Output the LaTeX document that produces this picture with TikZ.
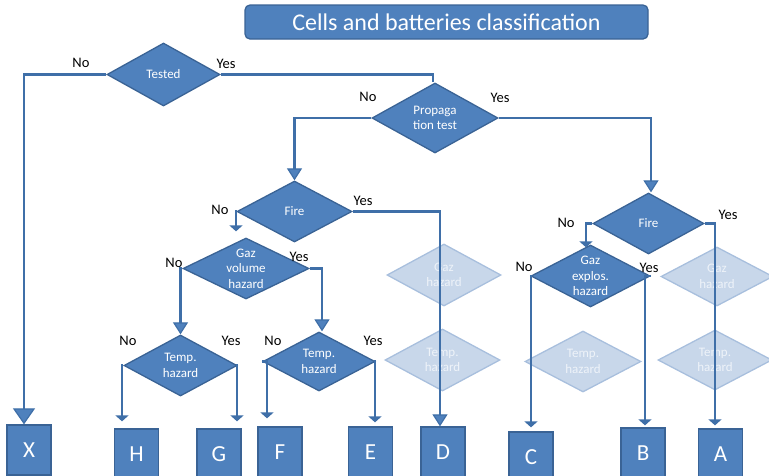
\documentclass[tikz,border=0pt]{standalone}
\usepackage{fontspec}
\setmainfont{Carlito}
\usetikzlibrary{shapes.geometric,arrows.meta}
\definecolor{fillblue}{HTML}{4F81BD}
\definecolor{edgeblue}{HTML}{3A6395}
\definecolor{linkblue}{HTML}{3F6FA8}
\definecolor{fadefill}{HTML}{C8D7EA}
\definecolor{fadeedge}{HTML}{A8BFDD}
\definecolor{fadetext}{HTML}{EEF3F9}
\begin{document}
\begin{tikzpicture}[x=1pt,y=-1pt,
  dia/.style={diamond, draw=edgeblue, line width=1.3pt, fill=fillblue, inner sep=0pt},
  fdia/.style={diamond, draw=fadeedge, line width=1.3pt, fill=fadefill, inner sep=0pt},
  dtext/.style={text=white, align=center, font=\fontsize{13}{15.5}\selectfont},
  ftext/.style={text=fadetext, align=center, font=\fontsize{13}{15.5}\selectfont},
  leaf/.style={rectangle, draw=edgeblue, line width=1.3pt, fill=fillblue, text=white,
    minimum width=44pt, minimum height=50pt, inner sep=0pt, font=\fontsize{23}{27}\selectfont},
  titlebox/.style={rectangle, rounded corners=5pt, draw=edgeblue, line width=1.3pt, fill=fillblue,
    text=white, minimum width=403pt, minimum height=34pt, inner sep=0pt, font=\fontsize{24}{28}\selectfont},
  yn/.style={anchor=base, inner sep=0pt, font=\fontsize{14.5}{17}\selectfont},
  link/.style={draw=linkblue, line width=2.2pt},
  bigtip/.style={-{Triangle[width=22pt,length=16pt,fill=fillblue,line width=1.2pt]}},
  midtip/.style={-{Triangle[width=15pt,length=12pt,fill=fillblue,line width=1.2pt]}},
  smalltip/.style={-{Triangle[width=13pt,length=6pt]}}
]
\clip (0,0) rectangle (769,475);
\useasboundingbox (0,0) rectangle (769,475);

% title
\node[titlebox] (title) at (446.5,22) {Cells and batteries classification};

% faded diamonds (behind the lines)
\node[fdia, minimum width=114pt, minimum height=62pt, label={[ftext]center:Gaz\\hazard}] (fgaz1) at (444,275) {};
\node[fdia, minimum width=115pt, minimum height=62pt, label={[ftext]center:Temp.\\hazard}] (ftemp1) at (442.5,360) {};
\node[fdia, minimum width=112pt, minimum height=59pt, label={[ftext]center:Gaz\\hazard}] (fgaz2) at (717,276.5) {};
\node[fdia, minimum width=116pt, minimum height=61pt, label={[ftext]center:Temp.\\hazard}] (ftemp2) at (583,361.5) {};
\node[fdia, minimum width=114pt, minimum height=60pt, label={[ftext]center:Temp.\\hazard}] (ftemp3) at (715,360) {};

% decision diamonds
\node[dia, minimum width=113pt, minimum height=63pt, label={[dtext]center:Tested}] (tested) at (163.5,74.5) {};
\node[dia, minimum width=126pt, minimum height=70pt, label={[dtext]center:Propaga\\tion test}] (prop) at (435,118) {};
\node[dia, minimum width=115pt, minimum height=61pt, label={[dtext]center:Fire}] (fire1) at (294.5,211.5) {};
\node[dia, minimum width=111pt, minimum height=61pt, label={[dtext]center:Fire}] (fire2) at (648.5,223.5) {};
\node[dia, minimum width=126pt, minimum height=61pt, label={[dtext]center:Gaz\\volume\\hazard}] (gazvol) at (246,268.5) {};
\node[dia, minimum width=119pt, minimum height=62pt, label={[dtext]center:Gaz\\explos.\\hazard}] (gazexp) at (590.5,276) {};
\node[dia, minimum width=113pt, minimum height=61pt, label={[dtext]center:Temp.\\hazard}] (temp1) at (180.5,365.5) {};
\node[dia, minimum width=112pt, minimum height=59pt, label={[dtext]center:Temp.\\hazard}] (temp2) at (319,361.5) {};

% result boxes
\node[leaf] (boxX) at (29,450) {X};
\node[leaf] (boxH) at (136.5,454) {H};
\node[leaf] (boxG) at (219,454) {G};
\node[leaf] (boxF) at (280,452) {F};
\node[leaf] (boxE) at (370.5,452) {E};
\node[leaf] (boxD) at (443,452) {D};
\node[leaf] (boxC) at (531,457) {C};
\node[leaf] (boxB) at (643,453) {B};
\node[leaf] (boxA) at (720.5,454) {A};

% connectors
\draw[link,bigtip] (tested.west) -| ([xshift=-5pt]boxX.north);
\draw[link] (tested.east) -| ([xshift=-2pt]prop.north);
\draw[link,midtip] (prop.west) -| (fire1.north);
\draw[link,midtip] (prop.east) -| ([xshift=2.5pt]fire2.north);
\draw[link,smalltip] (fire1.west) -| ([xshift=-10pt,yshift=6pt]gazvol.north);
\draw[link,midtip] (fire1.east) -| ([xshift=-3pt]boxD.north);
\draw[link,smalltip] (fire2.west) -| ([xshift=-4.5pt,yshift=-3pt]gazexp.north);
\draw[link,smalltip] (fire2.east) -| ([xshift=-5.5pt,yshift=3pt]boxA.north);
\draw[link,midtip] (gazvol.west) -| (temp1.north);
\draw[link,midtip] (gazvol.east) -| ([xshift=3pt]temp2.north);
\draw[link,smalltip] (gazexp.west) -| ([yshift=4pt]boxC.north);
\draw[link,smalltip] (gazexp.east) -| ([xshift=2pt,yshift=2pt]boxB.north);
\draw[link,smalltip] (temp1.west) -| ([xshift=-14.5pt,yshift=7pt]boxH.north);
\draw[link,smalltip] (temp1.east) -| ([xshift=18pt,yshift=7pt]boxG.north);
\draw[link,smalltip] (temp2.west) -| ([xshift=-13pt,yshift=8pt]boxF.north);
\draw[link,smalltip] (temp2.east) -| ([xshift=4.5pt,yshift=4pt]boxE.north);

% yes / no labels
\node[yn] (l1) at (81,67) {No};
\node[yn] (l2) at (226,68) {Yes};
\node[yn] (l3) at (368,101) {No};
\node[yn] (l4) at (500,102) {Yes};
\node[yn] (l5) at (220,214) {No};
\node[yn] (l6) at (363,205) {Yes};
\node[yn] (l7) at (174,267) {No};
\node[yn] (l8) at (299,261) {Yes};
\node[yn] (l9) at (566,227) {No};
\node[yn] (l10) at (728,219) {Yes};
\node[yn] (l11) at (524,271) {No};
\node[yn] (l12) at (649,272) {Yes};
\node[yn] (l13) at (128,345) {No};
\node[yn] (l14) at (231,345) {Yes};
\node[yn] (l15) at (273,345) {No};
\node[yn] (l16) at (373,345) {Yes};
\end{tikzpicture}
\end{document}
